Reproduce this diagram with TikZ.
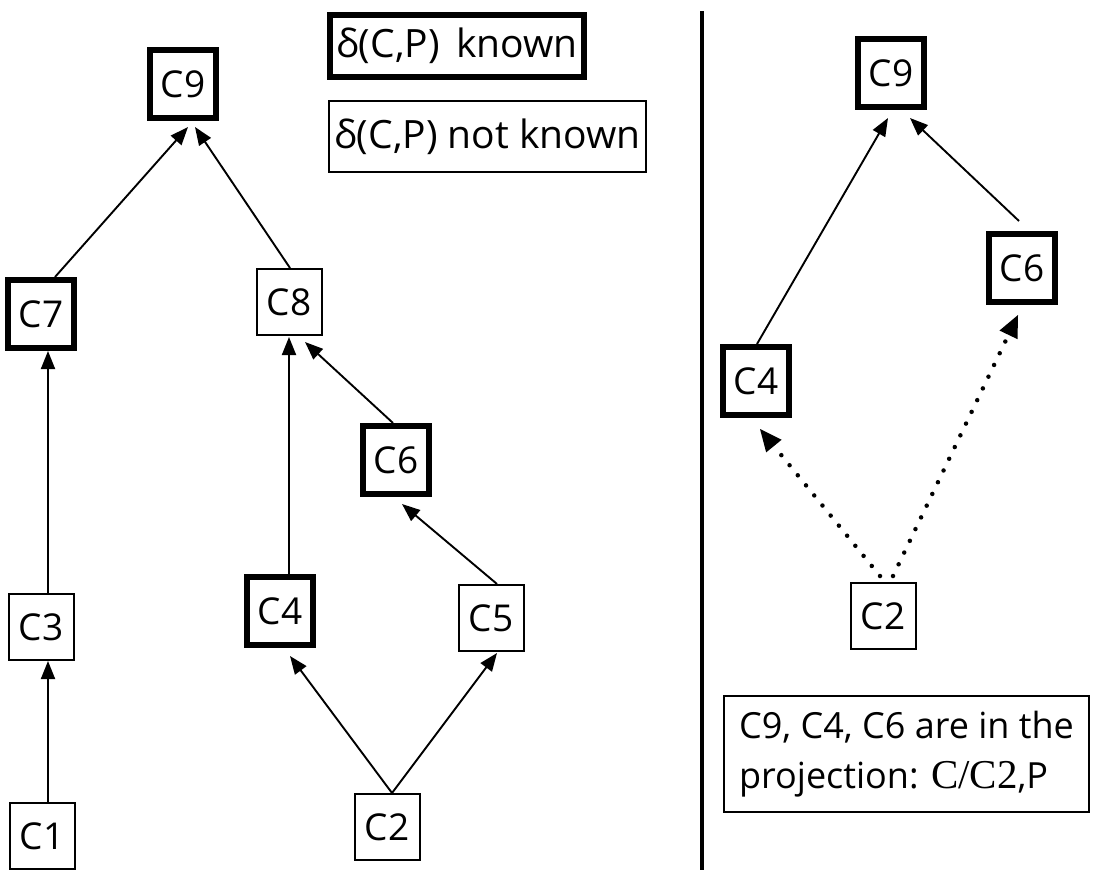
\documentclass[tikz,border=0pt]{standalone}
\usepackage{fontspec}
\setmainfont{Open Sans}
\newfontfamily\serifC{Liberation Serif}
\usetikzlibrary{arrows.meta}
\begin{document}
\begin{tikzpicture}[x=1pt,y=-1pt,
  box/.style={draw, inner sep=0pt, font=\fontsize{37}{40}\selectfont},
  known/.style={box, line width=6pt, minimum width=66pt, minimum height=68pt},
  unknown/.style={box, line width=2pt, minimum width=65pt, minimum height=66pt},
  link/.style={line width=1.9pt, -{Triangle[length=18pt,width=14pt]}},
  dotlink/.style={line width=4.5pt, line cap=round, dash pattern=on 0pt off 13pt,
                  -{Triangle[length=22pt,width=20pt,line width=0pt]}},
]
\useasboundingbox (0,0) rectangle (1095,873);

% legend
\node[known, minimum width=254pt, minimum height=62pt,
      font=\fontsize{39}{42}\selectfont] (kn) at (457,46) {δ(C,P)\, known};
\node[unknown, minimum width=317pt, minimum height=71pt,
      font=\fontsize{39}{42}\selectfont] (nk) at (487.5,136.5) {δ(C,P) not known};

% left lattice
\node[known]   (l9) at (183,84)  {C9};
\node[known]   (l7) at (41,314)  {C7};
\node[unknown] (l8) at (289,302) {C8};
\node[known]   (l6) at (396,460) {C6};
\node[unknown] (l3) at (41,627)  {C3};
\node[known]   (l4) at (280,611) {C4};
\node[unknown] (l5) at (491,618) {C5};
\node[unknown] (l1) at (42,836)  {C1};
\node[unknown] (l2) at (387,827) {C2};

\draw[link] ([xshift=14pt]l7.north) -- ([xshift=5pt,yshift=-6pt]l9.south);
\draw[link] ([xshift=1pt]l8.north) -- ([xshift=12pt,yshift=-6pt]l9.south);
\draw[link] ([xshift=7pt]l3.north) -- ([xshift=7pt]l7.south);
\draw[link] ([xshift=6pt]l1.north) -- ([xshift=7pt]l3.south);
\draw[link] ([xshift=9pt]l4.north) -- ([yshift=-1pt]l8.south);
\draw[link] ([xshift=-3pt]l6.north) -- ([xshift=16pt,yshift=-6pt]l8.south);
\draw[link] ([xshift=6pt]l5.north) -- ([xshift=6pt,yshift=-7pt]l6.south);
\draw[link] ([xshift=5pt]l2.north) -- ([xshift=10pt,yshift=-8pt]l4.south);
\draw[link] ([xshift=5pt]l2.north) -- ([xshift=6pt,yshift=-1pt]l5.south);

% separator
\draw[line width=4pt] (702,11) -- (702,870);

% right projection
\node[known]   (r9) at (891,73)   {C9};
\node[known]   (r6) at (1022,268) {C6};
\node[known]   (r4) at (756,381)  {C4};
\node[unknown] (r2) at (883,616)  {C2};

\draw[link] ([xshift=1pt]r4.north) -- ([xshift=-3pt,yshift=-8pt]r9.south);
\draw[link] ([xshift=-3pt,yshift=10pt]r6.north) -- ([xshift=19pt,yshift=-8pt]r9.south);
\draw[dotlink] ([xshift=-3pt,yshift=6pt]r2.north) -- ([xshift=4pt,yshift=-11pt]r4.south);
\draw[dotlink] ([xshift=10pt,yshift=6pt]r2.north) -- ([xshift=-4pt,yshift=-10pt]r6.south);

\node[unknown, minimum width=365pt, minimum height=116pt, align=left,
      font=\fontsize{36}{50}\selectfont] (note) at (906.5,754)
  {C9, C4, C6 are in the\\projection: {\serifC\fontsize{41}{50}\selectfont C/C2},P};
\end{tikzpicture}
\end{document}
